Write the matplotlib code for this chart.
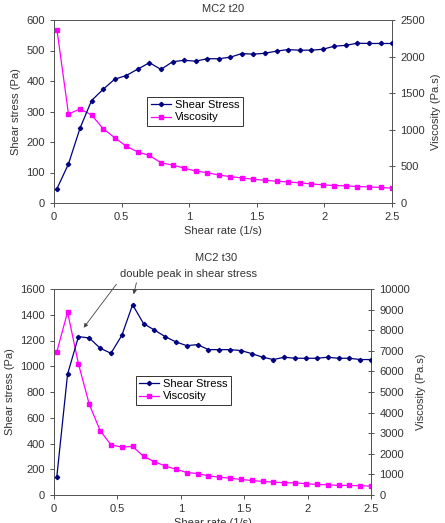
import numpy as np
import matplotlib.pyplot as plt

plt.rcParams['font.family'] = ['Liberation Sans', 'DejaVu Sans']
plt.rcParams['font.size'] = 8

# shear rate (1/s), same for both runs
rate = [0.022, 0.107, 0.193, 0.278, 0.364, 0.449, 0.535, 0.620, 0.706, 0.791,
        0.877, 0.962, 1.047, 1.133, 1.218, 1.304, 1.389, 1.475, 1.560, 1.646,
        1.731, 1.816, 1.902, 1.987, 2.073, 2.158, 2.244, 2.329, 2.415, 2.500]

# MC2 t20
stress_t20 = [47, 128, 246, 336, 373, 406, 418, 439, 460, 438,
              463, 468, 465, 473, 473, 478, 490, 488, 491, 498,
              503, 501, 501, 504, 514, 517, 524, 523, 523, 523]
visc_t20 = [2364, 1216, 1284, 1203, 1014, 892, 775, 698, 649, 550,
            518, 477, 437, 414, 383, 360, 342, 324, 311, 297,
            288, 275, 261, 248, 239, 234, 225, 221, 212, 203]

# MC2 t30
stress_t30 = [140, 939, 1230, 1220, 1140, 1101, 1240, 1478, 1331, 1282,
              1230, 1189, 1160, 1168, 1129, 1129, 1129, 1122, 1098, 1070,
              1052, 1070, 1062, 1062, 1062, 1070, 1062, 1062, 1052, 1052]
visc_t30 = [6950, 8880, 6364, 4407, 3125, 2436, 2324, 2356, 1875, 1619,
            1410, 1250, 1090, 1042, 929, 865, 817, 753, 705, 657,
            625, 593, 593, 545, 513, 497, 465, 465, 449, 433]

navy = '#000080'
pink = '#FF00FF'
grey = '#333333'

fig = plt.figure(figsize=(4.45, 5.23), dpi=100)
W, H = 445, 523


def panel(box, stress, visc, ymax, ystep, vmax, vstep, leg_pos):
    l, t, r, b = box
    ax = fig.add_axes([l / W, 1 - b / H, (r - l) / W, (b - t) / H])
    ax2 = ax.twinx()
    ax.plot(rate, stress, color=navy, lw=0.9, marker='D', ms=2.2,
            label='Shear Stress', zorder=3)
    ax2.plot(rate, visc, color=pink, lw=0.9, marker='s', ms=3,
             label='Viscosity')
    ax.set_zorder(ax2.get_zorder() + 1)
    ax.patch.set_visible(False)
    ax.set_xlim(0, 2.5)
    ax.set_ylim(0, ymax)
    ax2.set_ylim(0, vmax)
    ax.set_xticks([0, 0.5, 1, 1.5, 2, 2.5])
    ax.set_xticklabels(['0', '0.5', '1', '1.5', '2', '2.5'])
    ax.set_yticks(np.arange(0, ymax + 1, ystep))
    ax2.set_yticks(np.arange(0, vmax + 1, vstep))
    ax.tick_params(direction='out', length=3, width=0.6, colors=grey)
    ax2.tick_params(direction='inout', length=5, width=0.6, colors=grey)
    for a in (ax, ax2):
        for s in a.spines.values():
            s.set_linewidth(0.7)
            s.set_color('#555555')
    ax.set_ylabel('Shear stress (Pa)', color=grey, labelpad=4)
    ax2.set_ylabel('Viscosity (Pa.s)', color=grey, labelpad=4)
    ax.set_xlabel('Shear rate (1/s)', color=grey, labelpad=3)
    h1, l1 = ax.get_legend_handles_labels()
    h2, l2 = ax2.get_legend_handles_labels()
    leg = ax.legend(h1 + h2, l1 + l2, loc='upper left', bbox_to_anchor=leg_pos,
                    fancybox=False, edgecolor=grey, framealpha=1,
                    borderpad=0.3, labelspacing=0.2, handlelength=1.8,
                    handletextpad=0.4, fontsize=8)
    leg.get_frame().set_linewidth(0.7)
    return ax


ax1 = panel((54, 20, 392, 203), stress_t20, visc_t20,
            600, 100, 2500, 500, (0.26, 0.61))
ax1.set_title('MC2 t20', color=grey, fontsize=8, pad=6)

ax = panel((54, 289, 371, 495), stress_t30, visc_t30,
           1600, 200, 10000, 1000, (0.24, 0.605))

fig.text(216 / W, 1 - 258 / H, 'MC2 t30', ha='center', va='center',
         color=grey, fontsize=8)
fig.text(188 / W, 1 - 274 / H, 'double peak in shear stress', ha='center',
         va='center', color=grey, fontsize=8)

arrow = dict(arrowstyle='-|>', color='#444444', lw=0.6, mutation_scale=6)
ax.annotate('', xy=(0.221, 1282), xytext=(0.505, 1654),
            arrowprops=arrow, annotation_clip=False)
ax.annotate('', xy=(0.623, 1538), xytext=(0.655, 1670),
            arrowprops=arrow, annotation_clip=False)

fig.savefig('out.png', dpi=100)
